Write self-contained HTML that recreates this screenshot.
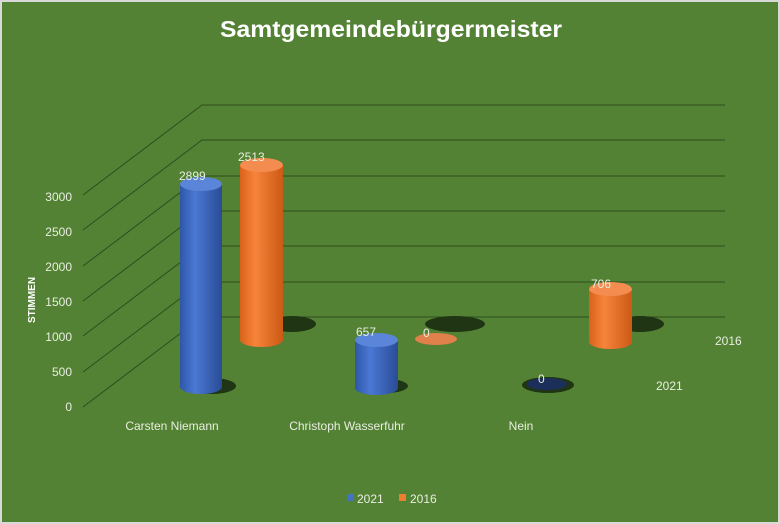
<!DOCTYPE html>
<html><head><meta charset="utf-8"><style>
body{margin:0;background:#fff}
svg{display:block;font-family:"Liberation Sans",sans-serif}
</style></head><body>
<svg width="780" height="524" viewBox="0 0 780 524">
<defs>
<linearGradient id="b" x1="0" x2="1"><stop offset="0" stop-color="#2f57a8"/><stop offset=".35" stop-color="#4a78d4"/><stop offset="1" stop-color="#2a4c96"/></linearGradient>
<linearGradient id="o" x1="0" x2="1"><stop offset="0" stop-color="#d9621a"/><stop offset=".35" stop-color="#f7843a"/><stop offset="1" stop-color="#cc5a15"/></linearGradient>
</defs>
<rect width="780" height="524" fill="#d9d9d9"/>
<rect x="2" y="2" width="776" height="520" fill="#548235"/>
<text x="220" y="37" textLength="342" lengthAdjust="spacingAndGlyphs" font-size="23" font-weight="bold" fill="#fff">Samtgemeindebürgermeister</text>
<g stroke="#2e4d1d" stroke-width="1" fill="none">
<path d="M83 195L202 105H725M83 230L202 140H725M83 266L202 176H725M83 301L202 211H725M83 336L202 246H725M83 372L202 282H725M83 407L202 317H725"/>
</g>
<g font-size="12" fill="#e8eee0" text-anchor="end">
<text x="72" y="201">3000</text><text x="72" y="236">2500</text><text x="72" y="271">2000</text><text x="72" y="306">1500</text><text x="72" y="341">1000</text><text x="72" y="376">500</text><text x="72" y="411">0</text>
</g>
<text transform="translate(35,300) rotate(-90)" text-anchor="middle" font-size="10" font-weight="bold" fill="#fff">STIMMEN</text>
<g fill="#1f3514">
<ellipse cx="212" cy="386" rx="24" ry="8"/><ellipse cx="292" cy="324" rx="24" ry="8"/>
<ellipse cx="386" cy="386" rx="22" ry="7"/><ellipse cx="455" cy="324" rx="30" ry="8"/>
<ellipse cx="548" cy="385" rx="26" ry="8"/><ellipse cx="640" cy="324" rx="24" ry="8"/>
</g>
<path d="M180 184V387A21 7 0 0 0 222 387V184Z" fill="url(#b)"/><ellipse cx="201" cy="184" rx="21" ry="7" fill="#5a85d8"/>
<path d="M240 165V340A21.5 7 0 0 0 283 340V165Z" fill="url(#o)"/><ellipse cx="261.5" cy="165" rx="21.5" ry="7" fill="#f48c4f"/>
<path d="M355 340V388A21.5 7 0 0 0 398 388V340Z" fill="url(#b)"/><ellipse cx="376.5" cy="340" rx="21.5" ry="7" fill="#5a85d8"/>
<ellipse cx="436" cy="339" rx="21" ry="6" fill="#e0804a"/>
<ellipse cx="547" cy="384" rx="20" ry="6" fill="#1c2e5a"/>
<path d="M589 289V342A21.5 7 0 0 0 632 342V289Z" fill="url(#o)"/><ellipse cx="610.5" cy="289" rx="21.5" ry="7" fill="#f48c4f"/>
<g font-size="12" fill="#e8eee0">
<text x="179" y="180">2899</text><text x="238" y="161">2513</text>
<text x="356" y="336">657</text><text x="423" y="337">0</text>
<text x="538" y="383">0</text><text x="591" y="288">706</text>
<text x="715" y="345">2016</text><text x="656" y="390">2021</text>
<text x="172" y="430" text-anchor="middle">Carsten Niemann</text>
<text x="347" y="430" text-anchor="middle">Christoph Wasserfuhr</text>
<text x="521" y="430" text-anchor="middle">Nein</text>
<text x="357" y="503">2021</text><text x="410" y="503">2016</text>
</g>
<rect x="347" y="494" width="7" height="7" fill="#4472c4"/>
<rect x="399" y="494" width="7" height="7" fill="#ed7d31"/>
</svg>
</body></html>
